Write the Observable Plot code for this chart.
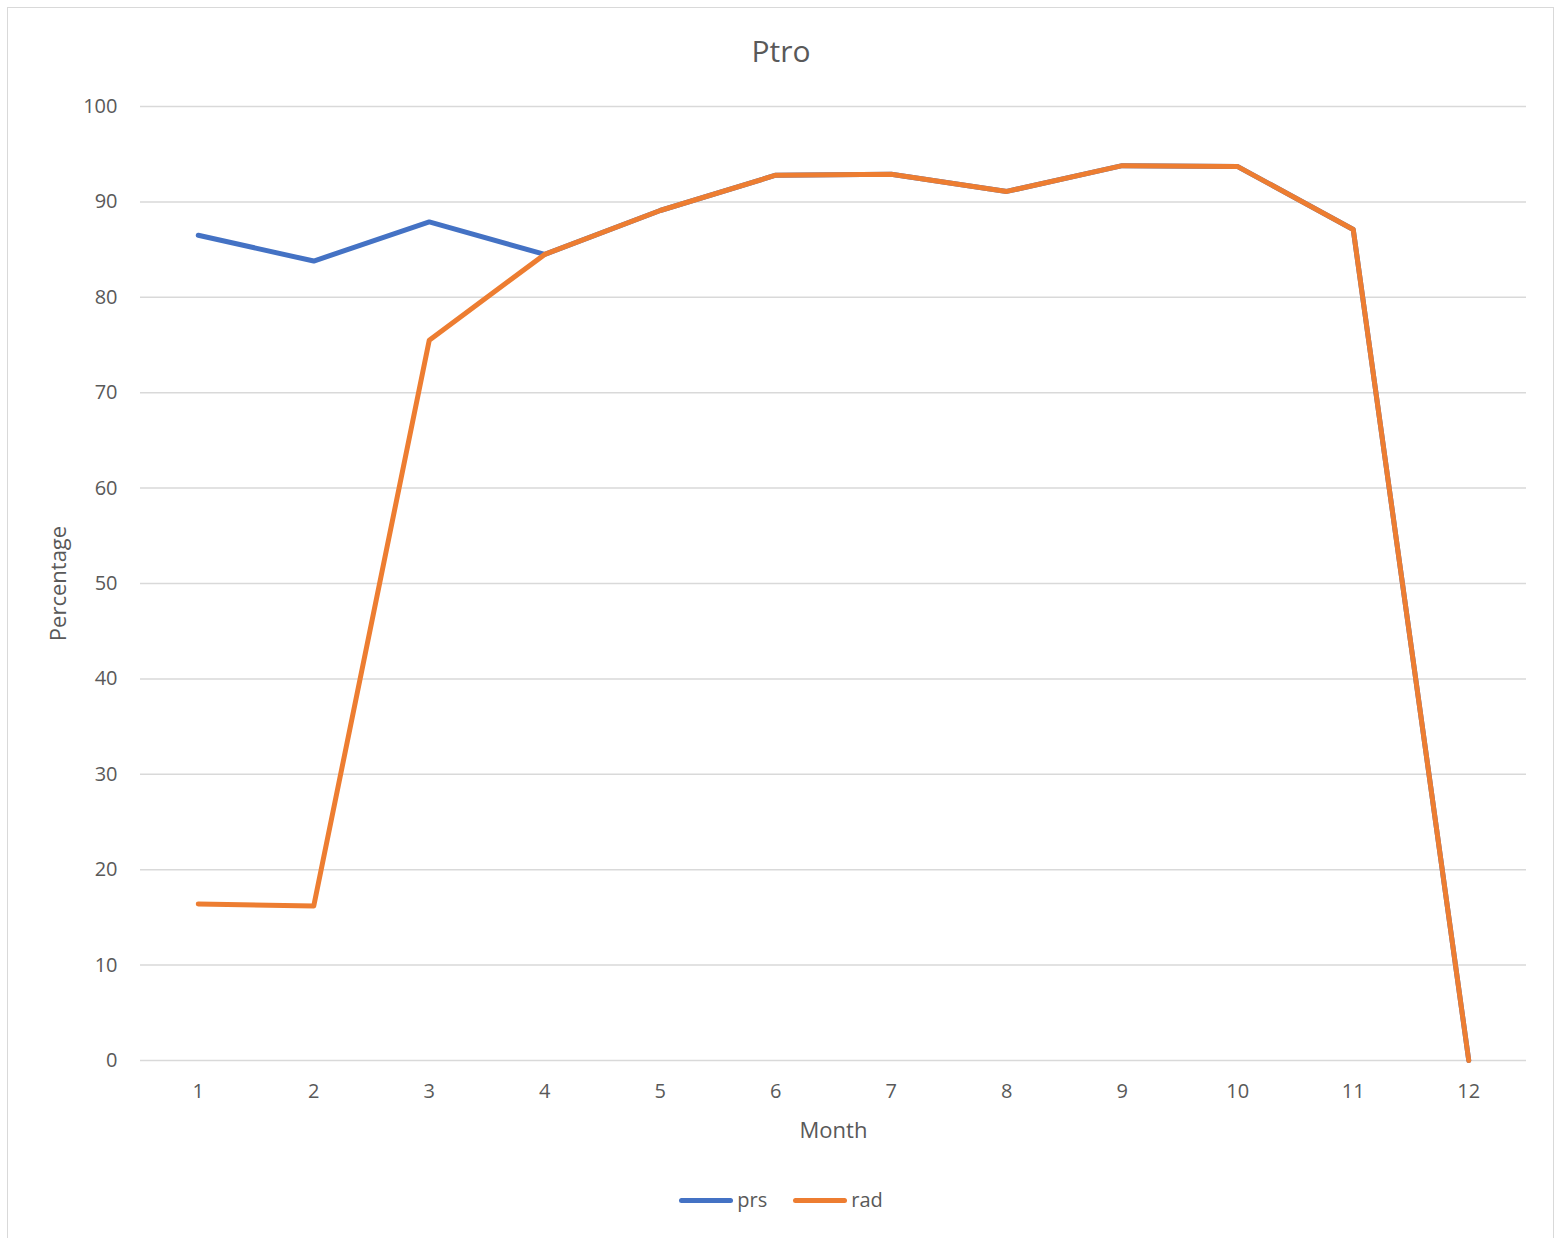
<!DOCTYPE html>
<html>
<head>
<meta charset="utf-8">
<script src="https://cdn.jsdelivr.net/npm/d3@7"></script>
<script src="https://cdn.jsdelivr.net/npm/@observablehq/plot@0.6"></script>
<style>
  html, body { margin: 0; padding: 0; background: #fff; }
  #wrap { position: relative; width: 1562px; height: 1238px; overflow: hidden; font-family: "Open Sans", sans-serif; color: #595959; }
  #frame { position: absolute; left: 7px; top: 7px; width: 1547px; height: 1240px; border: 1.5px solid #d9d9d9; box-sizing: border-box; }
  #title { position: relative; height: 80px; box-sizing: border-box; padding-top: 33px; text-align: center; font-size: 30px; line-height: 36px; }
  #chart { position: relative; height: 1080px; }
  #legend { position: relative; height: 78px; box-sizing: border-box; padding-top: 2px; display: flex; justify-content: center; align-items: center; font-size: 20px; line-height: 24px; }
  .item { display: flex; align-items: center; margin: 0 13px; }
  .sw { width: 54px; height: 5px; border-radius: 3px; margin-right: 4px; }
</style>
</head>
<body>
<div id="wrap">
  <div id="frame"></div>
  <div id="title">Ptro</div>
  <div id="chart"></div>
  <div id="legend"></div>
</div>
<script>
const months = [1, 2, 3, 4, 5, 6, 7, 8, 9, 10, 11, 12];
const prs = [86.5, 83.8, 87.9, 84.5, 89.1, 92.8, 92.9, 91.1, 93.8, 93.7, 87.1, 0];
const rad = [16.4, 16.2, 75.5, 84.5, 89.1, 92.8, 92.9, 91.1, 93.8, 93.7, 87.1, 0];
const yTicks = [0, 10, 20, 30, 40, 50, 60, 70, 80, 90, 100];
const seriesNames = ["prs", "rad"];
const seriesColors = ["#4472C4", "#ED7D31"];

const prsData = months.map((m, i) => ({month: m, value: prs[i]}));
const radData = months.map((m, i) => ({month: m, value: rad[i]}));

const chart = Plot.plot({
  width: 1562,
  height: 1080,
  marginTop: 26,
  marginBottom: 100,
  marginLeft: 140,
  marginRight: 36,
  style: {fontFamily: "Open Sans, sans-serif", fontSize: "20px", color: "#595959", background: "transparent", overflow: "visible"},
  x: {type: "point", domain: months, padding: 0.5, round: false},
  y: {domain: [0, 100]},
  marks: [
    Plot.gridY(yTicks, {stroke: "#d9d9d9", strokeOpacity: 1, strokeWidth: 1.5}),
    Plot.axisY(yTicks, {tickSize: 0, tickPadding: 23, label: null, fill: "#595959"}),
    Plot.axisX(months, {tickSize: 0, tickPadding: 23, label: null, fill: "#595959"}),
    Plot.text(["Month"], {frameAnchor: "bottom", dy: 70, lineAnchor: "middle", textAnchor: "middle", fontSize: 22, fill: "#595959"}),
    Plot.text(["Percentage"], {frameAnchor: "left", dx: -82, rotate: -90, lineAnchor: "middle", textAnchor: "middle", fontSize: 22, fill: "#595959"}),
    Plot.lineY(prsData, {x: "month", y: "value", stroke: seriesColors[0], strokeWidth: 5, strokeLinecap: "round", strokeLinejoin: "round"}),
    Plot.lineY(radData, {x: "month", y: "value", stroke: seriesColors[1], strokeWidth: 5, strokeLinecap: "round", strokeLinejoin: "round"})
  ]
});
document.getElementById("chart").appendChild(chart);

const legend = document.getElementById("legend");
seriesNames.forEach((name, i) => {
  const item = document.createElement("div");
  item.className = "item";
  const sw = document.createElement("div");
  sw.className = "sw";
  sw.style.background = seriesColors[i];
  const lab = document.createElement("span");
  lab.textContent = name;
  item.appendChild(sw);
  item.appendChild(lab);
  legend.appendChild(item);
});
</script>
</body>
</html>
